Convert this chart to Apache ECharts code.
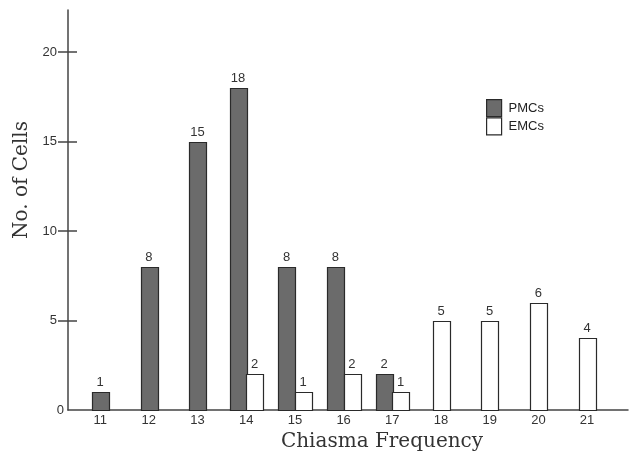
<!DOCTYPE html>
<html>
<head>
<meta charset="utf-8">
<script src="https://cdn.jsdelivr.net/npm/echarts@6/dist/echarts.min.js"></script>
<style>
html,body{margin:0;padding:0;background:#fff;}
#chart{width:630px;height:455px;}
</style>
</head>
<body>
<div id="chart"></div>
<script>
const frequencies = [11, 12, 13, 14, 15, 16, 17, 18, 19, 20, 21];
const pmcCells = [1, 8, 15, 18, 8, 8, 2, null, null, null, null];
const emcCells = [null, null, null, 2, 1, 2, 1, 5, 5, 6, 4];
const yTickValues = [5, 10, 15, 20];
const yZeroLabel = [0];

const PMC_COLOR = '#6b6b6b';
const EMC_COLOR = '#ffffff';
const EDGE = '#2a2a2a';

function buildData(own, other) {
  const out = [];
  frequencies.forEach(function (f, i) {
    if (own[i] != null) out.push([f, own[i], other[i] != null ? 1 : 0]);
  });
  return out;
}

function makeRender(side, fillColor) {
  return function (params, api) {
    const x = api.value(0), v = api.value(1), paired = api.value(2);
    const top = api.coord([x, v]);
    const base = api.coord([x, 0]);
    const w = api.size([1, 0])[0] * 0.34;
    let x0 = top[0] - w / 2;
    if (paired) x0 = side === 0 ? top[0] - w : top[0];
    return {
      type: 'group',
      children: [
        {
          type: 'rect',
          shape: { x: Math.round(x0) + 0.5, y: Math.round(top[1]) + 0.5, width: Math.round(w), height: Math.round(base[1]) - Math.round(top[1]) },
          style: { fill: fillColor, stroke: EDGE, lineWidth: 1.2 }
        },
        {
          type: 'text',
          style: {
            text: String(v), x: x0 + w / 2, y: top[1] - 3,
            align: 'center', verticalAlign: 'bottom',
            fontSize: 13, fontFamily: '"Liberation Sans", Arial, sans-serif', fill: '#333'
          }
        }
      ]
    };
  };
}

const chart = echarts.init(document.getElementById('chart'), null, { renderer: 'canvas' });
const axisColor = '#444';
chart.setOption({
  animation: false,
  backgroundColor: '#fff',
  grid: { left: 68, right: 2, top: 10, bottom: 45 },
  legend: {
    orient: 'vertical', left: 481, top: 94, itemGap: 0,
    itemWidth: 15, itemHeight: 17,
    textStyle: { fontSize: 13, color: '#222', fontFamily: '"Liberation Sans", Arial, sans-serif', padding: [0, 0, 0, 2] },
    data: [
      { name: 'PMCs', icon: 'rect', itemStyle: { color: PMC_COLOR, borderColor: EDGE, borderWidth: 1.2 } },
      { name: 'EMCs', icon: 'rect', itemStyle: { color: EMC_COLOR, borderColor: EDGE, borderWidth: 1.2 } }
    ]
  },
  xAxis: {
    type: 'value', min: 10.34, max: 21.84,
    axisLine: { show: true, lineStyle: { color: axisColor, width: 1.5 } },
    axisTick: { show: false },
    splitLine: { show: false },
    axisLabel: {
      customValues: frequencies, margin: 4, fontSize: 13, color: '#333',
      fontFamily: '"Liberation Sans", Arial, sans-serif'
    }
  },
  yAxis: [
    {
      type: 'value', min: 0, max: 22.35, position: 'left',
      axisLine: { show: true, lineStyle: { color: axisColor, width: 1.5 } },
      axisTick: { show: true, customValues: yTickValues, length: 10, lineStyle: { color: axisColor, width: 1.5 } },
      splitLine: { show: false },
      axisLabel: {
        customValues: yTickValues, margin: 11, fontSize: 13, color: '#333',
        fontFamily: '"Liberation Sans", Arial, sans-serif'
      }
    },
    {
      type: 'value', min: 0, max: 22.35, position: 'left', offset: 0,
      axisLine: { show: false },
      axisTick: { show: true, inside: true, customValues: yTickValues, length: 9, lineStyle: { color: axisColor, width: 1.5 } },
      splitLine: { show: false },
      axisLabel: {
        customValues: yZeroLabel, margin: 4, fontSize: 13, color: '#333',
        fontFamily: '"Liberation Sans", Arial, sans-serif'
      }
    }
  ],
  graphic: [
    {
      type: 'text', x: 382, y: 442,
      style: { text: 'Chiasma Frequency', align: 'center', verticalAlign: 'middle', fontSize: 20, fontFamily: '"DejaVu Serif", serif', fill: '#333' }
    },
    {
      type: 'text', x: 22, y: 180, rotation: Math.PI / 2,
      style: { text: 'No. of Cells', align: 'center', verticalAlign: 'middle', fontSize: 20, fontFamily: '"DejaVu Serif", serif', fill: '#333' }
    }
  ],
  series: [
    {
      name: 'PMCs', type: 'custom', coordinateSystem: 'cartesian2d', xAxisIndex: 0, yAxisIndex: 0,
      itemStyle: { color: PMC_COLOR, borderColor: EDGE, borderWidth: 1.2 },
      encode: { x: 0, y: 1 },
      renderItem: makeRender(0, PMC_COLOR),
      data: buildData(pmcCells, emcCells)
    },
    {
      name: 'EMCs', type: 'custom', coordinateSystem: 'cartesian2d', xAxisIndex: 0, yAxisIndex: 0,
      itemStyle: { color: EMC_COLOR, borderColor: EDGE, borderWidth: 1.2 },
      encode: { x: 0, y: 1 },
      renderItem: makeRender(1, EMC_COLOR),
      data: buildData(emcCells, pmcCells)
    }
  ]
});
</script>
</body>
</html>
